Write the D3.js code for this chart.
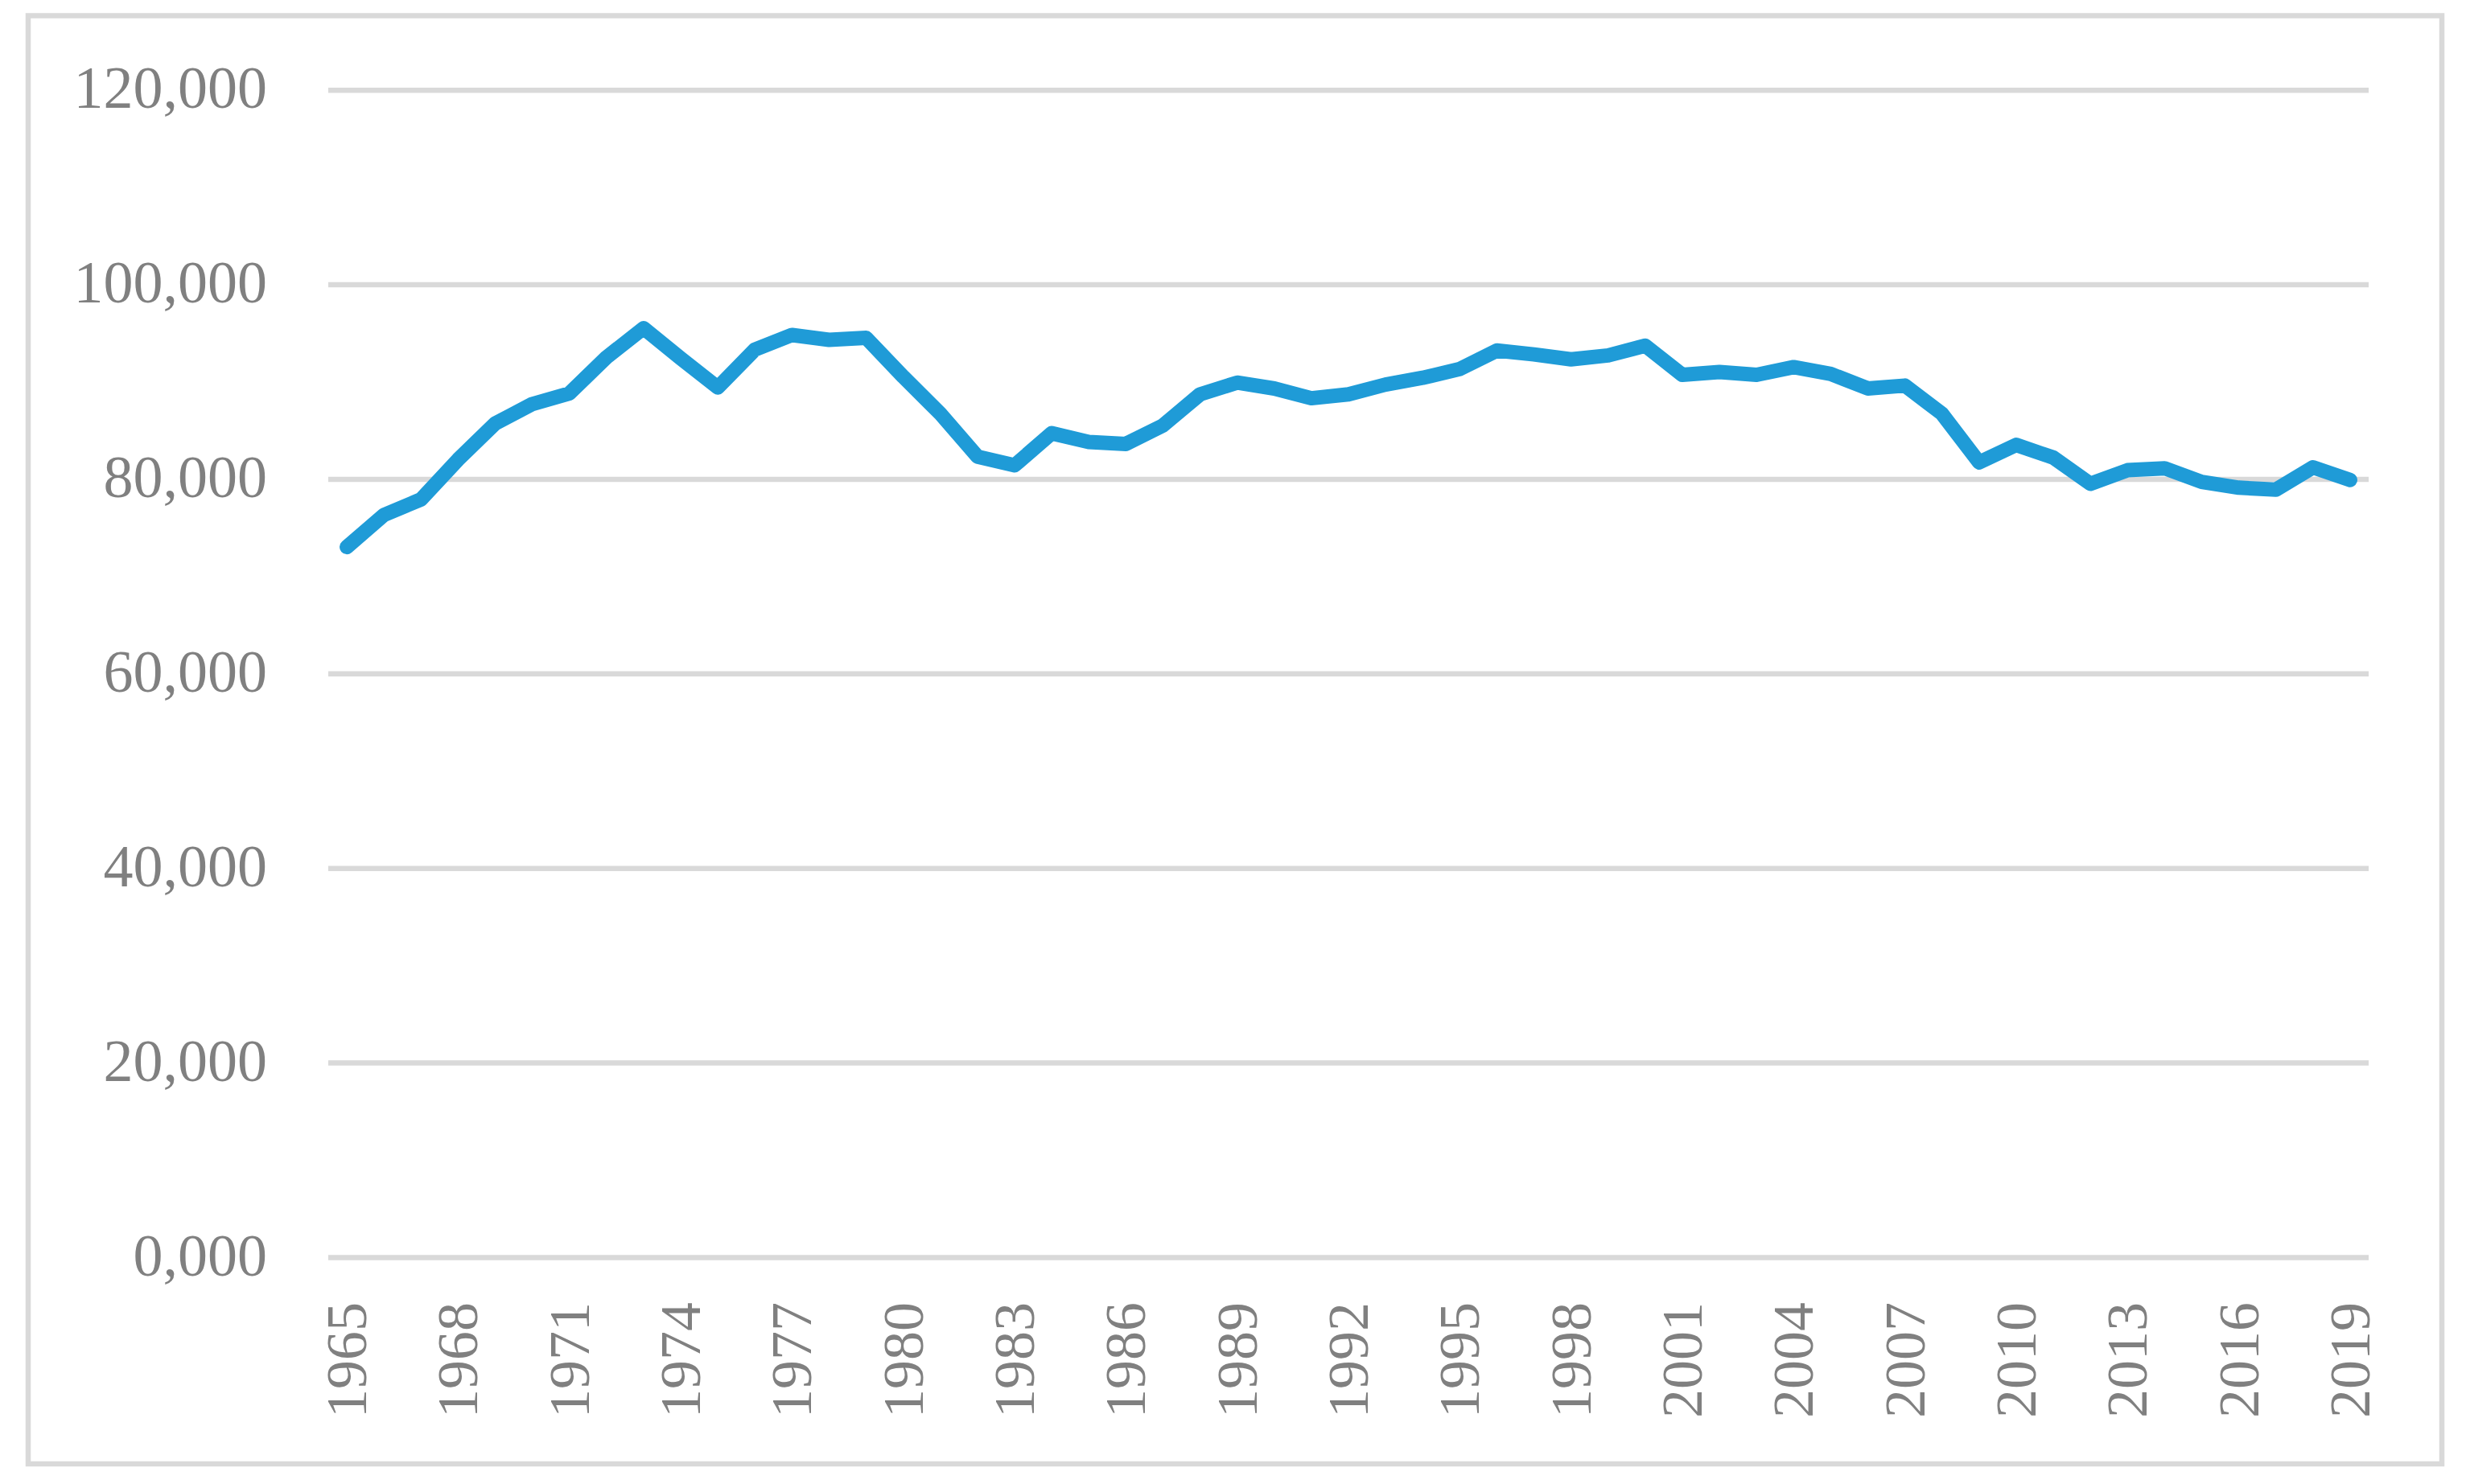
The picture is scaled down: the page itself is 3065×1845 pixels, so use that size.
<!DOCTYPE html>
<html>
<head>
<meta charset="utf-8">
<script src="https://cdn.jsdelivr.net/npm/d3@7"></script>
<style>
  html, body { margin: 0; padding: 0; background: #ffffff; }
  svg { display: block; }
</style>
</head>
<body>
<svg id="chart" width="3065" height="1845"></svg>
<script>
const years = [1965,1966,1967,1968,1969,1970,1971,1972,1973,1974,1975,1976,1977,1978,1979,
  1980,1981,1982,1983,1984,1985,1986,1987,1988,1989,1990,1991,1992,1993,1994,1995,1996,1997,
  1998,1999,2000,2001,2002,2003,2004,2005,2006,2007,2008,2009,2010,2011,2012,2013,2014,2015,
  2016,2017,2018,2019];
const values = [73000,76300,77900,82000,85700,87700,88800,92500,95500,92400,89400,93300,94800,94300,94500,
  90500,86700,82300,81400,84700,83800,83600,85500,88700,89900,89300,88300,88700,89700,90400,91300,93200,92800,
  92300,92700,93700,90700,91000,90700,91500,90800,89300,89600,86700,81700,83500,82200,79500,80900,81100,79700,
  79100,78900,81200,79900];
const yTickValues = [0,20000,40000,60000,80000,100000,120000];
const yTickLabels = ["0,000","20,000","40,000","60,000","80,000","100,000","120,000"];
const xTickYears = [1965,1968,1971,1974,1977,1980,1983,1986,1989,1992,1995,1998,2001,2004,2007,2010,2013,2016,2019];

const svg = d3.select("#chart");
const plotLeft = 408, plotRight = 2944, plotTop = 111.7, plotBottom = 1563;
const fontFamily = "'Liberation Serif', 'Times New Roman', serif";
const textColor = "#808080";
const gridColor = "#d9d9d9";

// outer frame
svg.append("rect")
  .attr("x", 35).attr("y", 19.5).attr("width", 3000).attr("height", 1800.5)
  .attr("fill", "none").attr("stroke", gridColor).attr("stroke-width", 6.5);

const x = d3.scaleBand().domain(years).range([plotLeft, plotRight]).padding(0);
const xc = d => x(d) + x.bandwidth() / 2;
const y = d3.scaleLinear().domain([0, 120000]).range([plotBottom, plotTop]);

// gridlines + y labels via axis
const yAxis = d3.axisLeft(y).tickValues(yTickValues)
  .tickSize(-(plotRight - plotLeft))
  .tickFormat((d, i) => yTickLabels[i]);
const gy = svg.append("g").attr("transform", `translate(${plotLeft},0)`).call(yAxis);
gy.select(".domain").remove();
gy.selectAll(".tick line").attr("stroke", gridColor).attr("stroke-width", 6.5);
gy.selectAll(".tick text")
  .attr("x", -76).attr("dy", "0.3em")
  .attr("fill", textColor)
  .style("font-family", fontFamily).style("font-size", "74px")
  .attr("text-anchor", "end");

// x axis labels
const xAxis = d3.axisBottom(x).tickValues(xTickYears).tickSize(0).tickFormat(d => String(d));
const gx = svg.append("g").attr("transform", `translate(0,${plotBottom})`).call(xAxis);
gx.select(".domain").remove();
gx.selectAll(".tick line").remove();
gx.selectAll(".tick text")
  .attr("fill", textColor)
  .style("font-family", fontFamily).style("font-size", "72px")
  .attr("text-anchor", "end")
  .attr("x", 0).attr("y", 0).attr("dy", null)
  .attr("transform", "translate(0,56) rotate(-90) translate(0,24)");

// line
const line = d3.line().x((d, i) => xc(years[i])).y(d => y(d));
svg.append("path").datum(values)
  .attr("d", line)
  .attr("fill", "none")
  .attr("stroke", "#1f9bd7")
  .attr("stroke-width", 18)
  .attr("stroke-linejoin", "round")
  .attr("stroke-linecap", "round");
</script>
</body>
</html>
